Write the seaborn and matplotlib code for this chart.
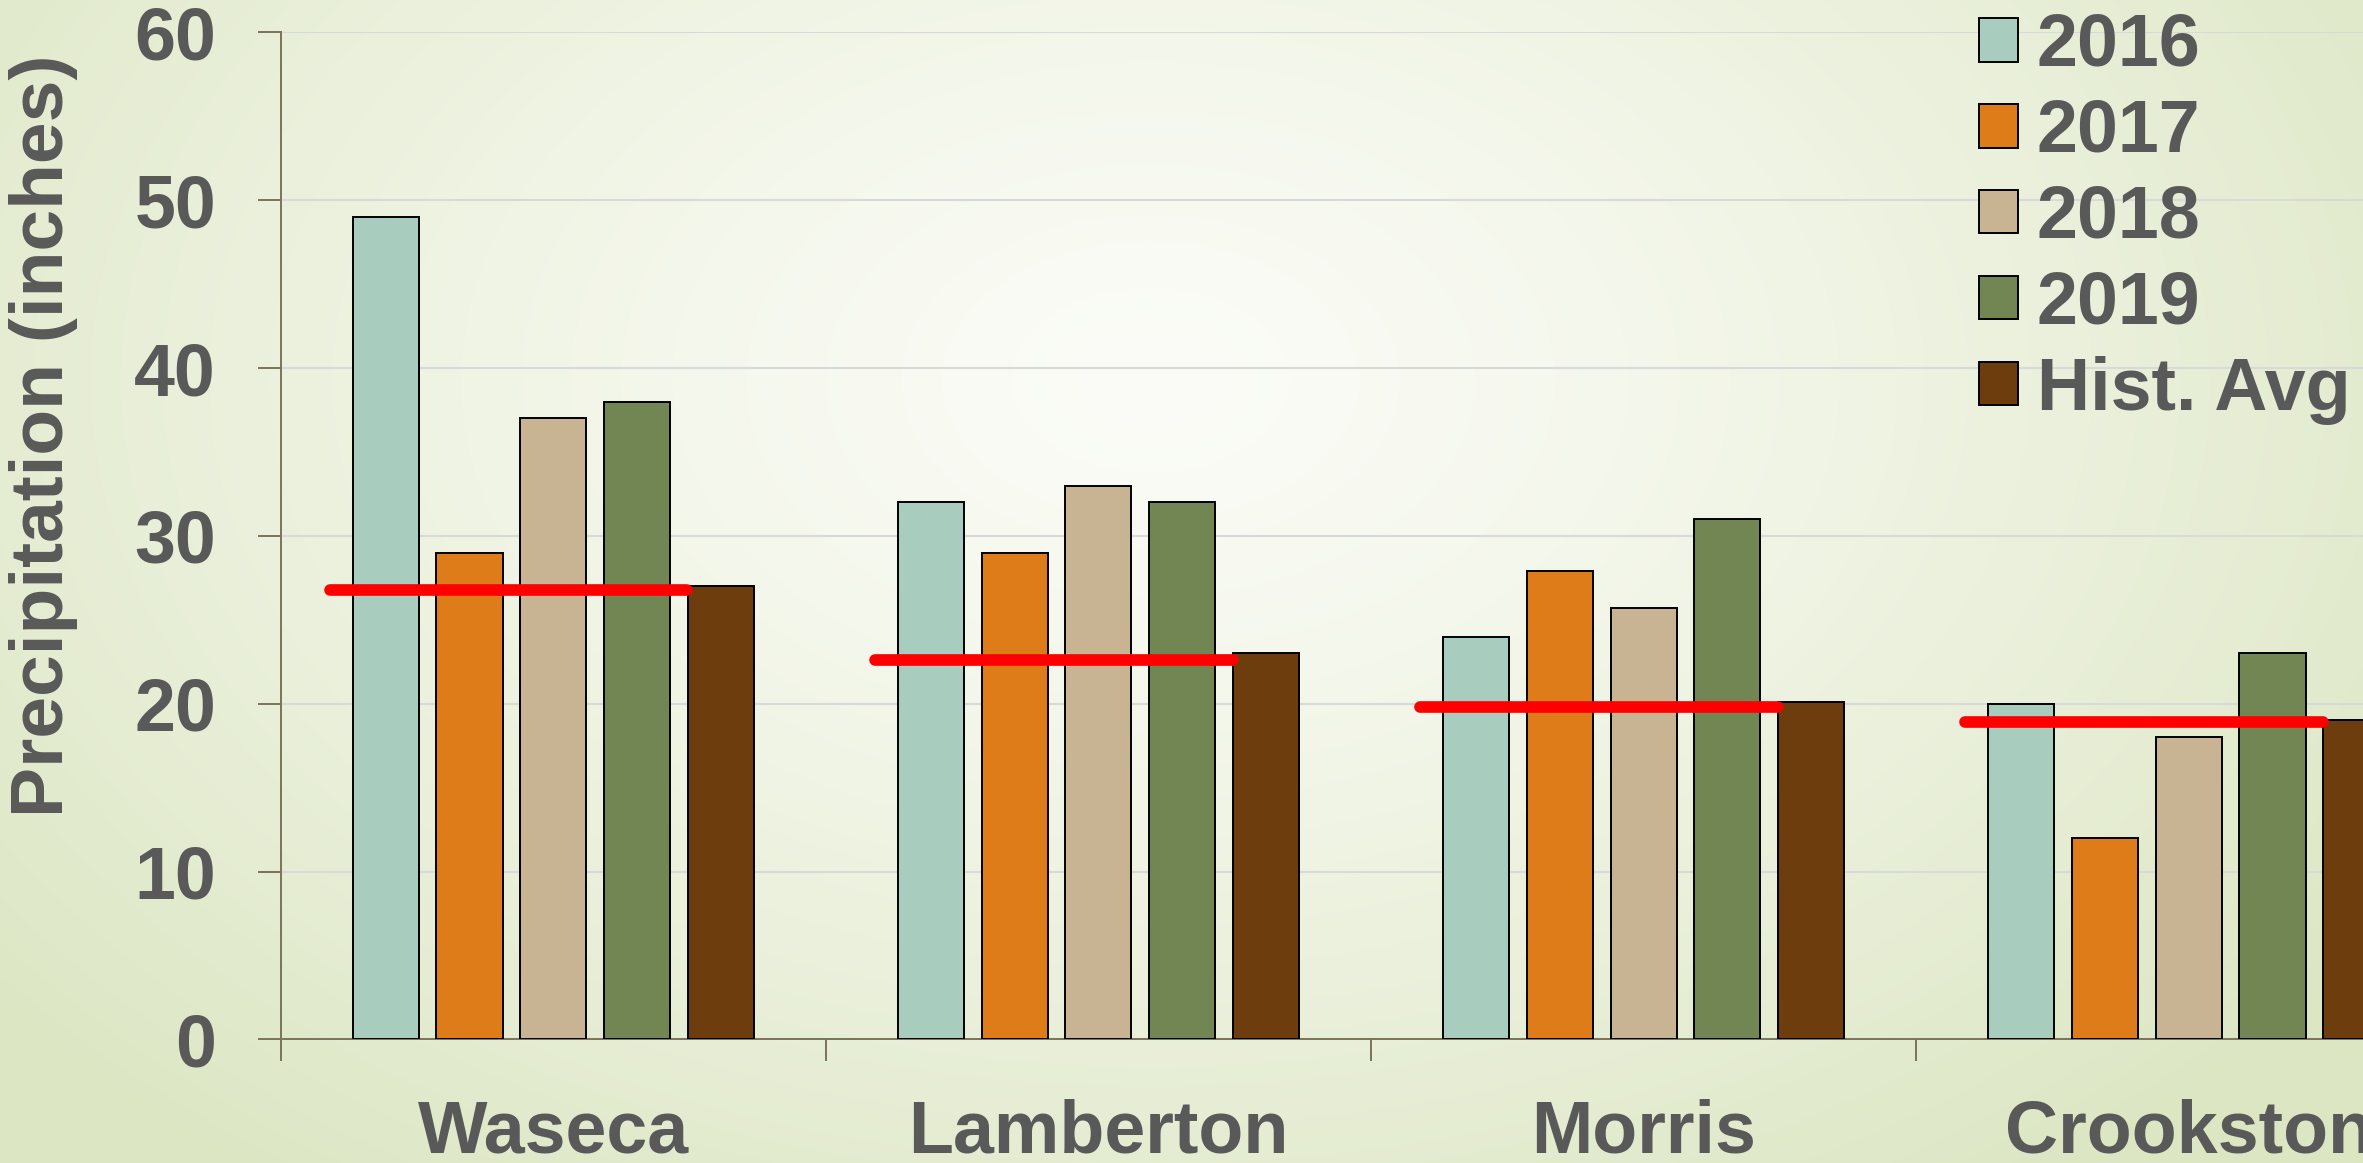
import numpy as np
import pandas as pd
import matplotlib
matplotlib.use("Agg")
import matplotlib.pyplot as plt
import matplotlib.patches as mpatches
from matplotlib.colors import to_rgb
import seaborn as sns

# ---------------- data ----------------
sites = ["Waseca", "Lamberton", "Morris", "Crookston"]
series = ["2016", "2017", "2018", "2019", "Hist. Avg"]
v2016 = [49, 32, 24, 20]
v2017 = [29, 29, 27.9, 12]
v2018 = [37, 33, 25.7, 18]
v2019 = [38, 32, 31, 23]
vhist = [27, 23, 20.1, 19]
normal_line = [26.8, 22.6, 19.8, 18.9]
yticks = [0, 10, 20, 30, 40, 50, 60]
ylabel = "Precipitation (inches)"
colors = ["#A8CDBF", "#DD7C19", "#C8B493", "#728654", "#6D3D0D"]

rows = []
for name, vals in zip(series, [v2016, v2017, v2018, v2019, vhist]):
    for s, v in zip(sites, vals):
        rows.append({"site": s, "series": name, "value": v})
df = pd.DataFrame(rows)

# ---------------- style ----------------
sns.set_theme(style="white")
plt.rcParams["font.family"] = ["Liberation Sans", "DejaVu Sans"]
TXT = "#595959"
AXC = "#7B735A"
FS = 53

W, H = 2363, 1163
fig = plt.figure(figsize=(W / 100, H / 100), dpi=100)

# background radial gradient
bg = fig.add_axes([0, 0, 1, 1], zorder=-10)
yy, xx = np.mgrid[0:H, 0:W]
r = np.sqrt(((xx - 1150) / 1500.0) ** 2 + ((yy - 380) / 1000.0) ** 2)
t = np.clip(r, 0, 1) ** 1.3
inner = np.array(to_rgb("#FBFCF7"))
outer = np.array(to_rgb("#DCE6C3"))
img = inner * (1 - t[..., None]) + outer * t[..., None]
bg.imshow(img, aspect="auto", extent=[0, 1, 0, 1])
bg.axis("off")

# main axes (extends past right edge, as in the reference)
x0, y0 = 280.6, 1039.3
cat_w, unit10 = 545.2, 16.78 * 10
ax = fig.add_axes([x0 / W, (H - y0) / H, 4 * cat_w / W, 6 * unit10 / H])
ax.patch.set_alpha(0)

sns.barplot(data=df, x="site", y="value", hue="series", order=sites,
            hue_order=series, palette=colors, saturation=1,
            width=0.7675, gap=0.21, edgecolor="black", linewidth=1.4,
            legend=False, ax=ax, zorder=3)

for i, v in enumerate(normal_line):
    ax.plot([i - 0.41, i + 0.246], [v, v], color="#FF0000", lw=8.4,
            solid_capstyle="round", zorder=6)

ax.set_xlim(-0.5, 3.5)
ax.set_ylim(0, 60)
ax.set_xlabel("")
ax.set_ylabel("")

# y axis
ax.set_yticks(yticks)
ax.set_yticklabels([str(v) for v in yticks])
ax.tick_params(axis="y", direction="out", length=16.5, width=1.4, color=AXC,
               pad=30, labelsize=FS, labelcolor=TXT, left=True)
for lab in ax.get_yticklabels():
    lab.set_fontweight("bold")

# x axis: boundary ticks + centered labels
ax.set_xticks([-0.5, 0.5, 1.5, 2.5, 3.5])
ax.set_xticklabels([])
ax.set_xticks(range(len(sites)), minor=True)
ax.set_xticklabels(sites, minor=True)
ax.tick_params(axis="x", which="major", direction="out", length=16, width=1.4,
               color=AXC, bottom=True)
ax.tick_params(axis="x", which="minor", length=0, pad=42.5, labelsize=FS,
               labelcolor=TXT, bottom=True)
for lab in ax.get_xticklabels(minor=True):
    lab.set_fontweight("bold")

ax.yaxis.grid(True, color="#D9D9D9", lw=1.5)
ax.xaxis.grid(False)
ax.set_axisbelow(True)
for side in ["top", "right"]:
    ax.spines[side].set_visible(False)
for side in ["left", "bottom"]:
    ax.spines[side].set_color(AXC)
    ax.spines[side].set_linewidth(1.4)

fig.text(44 / W, 0.625, ylabel, rotation=90, ha="center", va="center",
         fontsize=54, fontweight="bold", color=TXT)

handles = [mpatches.Patch(facecolor=c, edgecolor="black", lw=1.4) for c in colors]
fig.legend(handles, series, loc="upper left",
           bbox_to_anchor=(1979.3 / W, 1 - 12 / H), bbox_transform=fig.transFigure,
           frameon=False, prop={"size": FS, "weight": "bold"},
           labelcolor=TXT, handlelength=0.53, handleheight=0.53,
           handletextpad=0.25, labelspacing=0.23, borderpad=0, borderaxespad=0)

fig.savefig("out.png", dpi=100)
